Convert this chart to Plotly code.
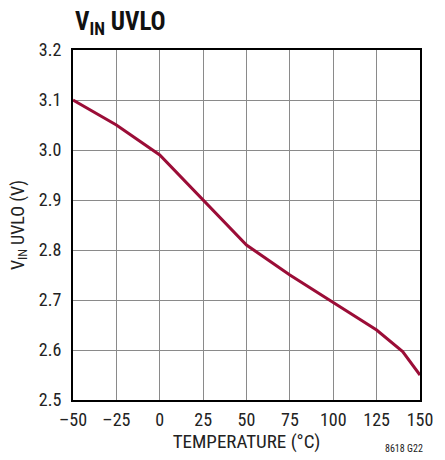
import plotly.graph_objects as go

# Data
temps = [-50, -25, 0, 25, 50, 75, 100, 125, 140, 150]
uvlo = [3.10, 3.05, 2.99, 2.90, 2.81, 2.75, 2.695, 2.64, 2.597, 2.55]

x_ticks = [-50, -25, 0, 25, 50, 75, 100, 125, 150]
x_labels = ["–50", "–25", "0", "25", "50", "75", "100", "125", "150"]
y_ticks = [2.5, 2.6, 2.7, 2.8, 2.9, 3.0, 3.1, 3.2]
y_labels = ["2.5", "2.6", "2.7", "2.8", "2.9", "3.0", "3.1", "3.2"]

FONT = "Liberation Sans Narrow, Roboto Condensed, Arial Narrow, sans-serif"

fig = go.Figure()
fig.add_trace(go.Scatter(
    x=temps, y=uvlo, mode="lines",
    line=dict(color="#9B0D37", width=3),
    showlegend=False, hoverinfo="skip"
))

fig.update_layout(
    width=445, height=460,
    margin=dict(l=73, r=20, t=50, b=60),
    paper_bgcolor="white", plot_bgcolor="white",
    font=dict(family=FONT, color="#222", size=18),
    annotations=[
        # chart title, aligned with the left edge of the plot
        dict(text="<b>V<sub>IN</sub> UVLO</b>", xref="paper", yref="paper",
             x=0, y=1, xanchor="left", yanchor="middle", yshift=27,
             showarrow=False, font=dict(size=25, color="#111")),
        dict(text="8618 G22", xref="paper", yref="paper", x=1.0, y=0,
             xanchor="right", yanchor="middle", xshift=5, yshift=-48,
             showarrow=False, font=dict(size=10)),
    ],
)

fig.update_xaxes(
    range=[-50, 150], tickvals=x_ticks, ticktext=x_labels,
    showgrid=True, gridcolor="#8a8a8a", gridwidth=1,
    showline=True, linecolor="black", linewidth=2, mirror=True,
    ticks="", zeroline=False, ticklabelstandoff=2,
    title=dict(text="TEMPERATURE (°C)", font=dict(size=19), standoff=4),
)
fig.update_yaxes(
    range=[2.5, 3.2], tickvals=y_ticks, ticktext=y_labels,
    showgrid=True, gridcolor="#8a8a8a", gridwidth=1,
    showline=True, linecolor="black", linewidth=2, mirror=True,
    ticks="", zeroline=False, ticklabelstandoff=6,
    title=dict(text="V<sub>IN</sub> UVLO (V)", font=dict(size=18), standoff=10),
)

fig.write_html(
    "out.html",
    config={"displayModeBar": False},
    post_script="document.body.style.margin='0';document.body.style.overflow='hidden';",
)
